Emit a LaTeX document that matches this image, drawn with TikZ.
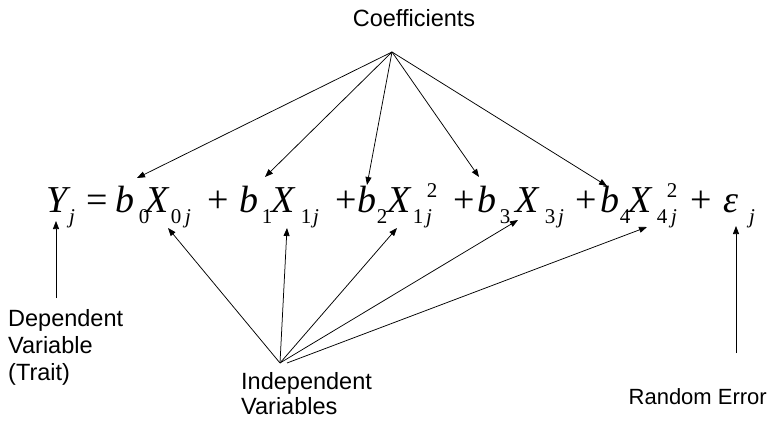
\documentclass[tikz,border=0pt]{standalone}
\usepackage{fontspec}
\usetikzlibrary{arrows.meta}
\newfontfamily\eqfont{Liberation Serif}
\newfontfamily\lblfont{Liberation Sans}
\tikzset{
  eqm/.style={anchor=base, inner sep=0pt, font=\eqfont\fontsize{38}{38}\selectfont},
  eqs/.style={anchor=base, inner sep=0pt, font=\eqfont\fontsize{21}{21}\selectfont},
  lbl/.style={inner sep=0pt, font=\lblfont\fontsize{23.5}{27}\selectfont, align=left},
  arr/.style={-{Triangle[length=8pt,width=6pt]}, line width=0.75pt},
}
\begin{document}
\begin{tikzpicture}[x=1pt,y=-1pt]
\useasboundingbox (0,0) rectangle (770,425);
% main symbols (baseline 212)
\node[eqm] (Y)  at (57,212)  {\itshape Y};
\node[eqm] (eq) at (97,212)  {=};
\node[eqm] (b0) at (125,212) {\itshape b};
\node[eqm] (X0) at (157,212) {\itshape X};
\node[eqm] (p1) at (218,212) {+};
\node[eqm] (b1) at (249,212) {\itshape b};
\node[eqm] (X1) at (283,212) {\itshape X};
\node[eqm] (p2) at (346,212) {+};
\node[eqm] (b2) at (367,212) {\itshape b};
\node[eqm] (X2) at (399,212) {\itshape X};
\node[eqm] (p3) at (464,212) {+};
\node[eqm] (b3) at (487,212) {\itshape b};
\node[eqm] (X3) at (527,212) {\itshape X};
\node[eqm] (p4) at (586,212) {+};
\node[eqm] (b4) at (610,212) {\itshape b};
\node[eqm] (X4) at (640,212) {\itshape X};
\node[eqm] (p5) at (701,212) {+};
\node[eqm] (ep) at (731,212) {\itshape ε};
% subscripts (baseline 223)
\node[eqs] (sYj)  at (72,223)  {\itshape j};
\node[eqs] (sb0)  at (144,223) {0};
\node[eqs] (sX0)  at (176,223) {0};
\node[eqs] (sX0j) at (188,223) {\itshape j};
\node[eqs] (sb1)  at (267,223) {1};
\node[eqs] (sX1)  at (306,223) {1};
\node[eqs] (sX1j) at (316,223) {\itshape j};
\node[eqs] (sb2)  at (382,223) {2};
\node[eqs] (sX2)  at (418,223) {1};
\node[eqs] (sX2j) at (429,223) {\itshape j};
\node[eqs] (sb3)  at (505,223) {3};
\node[eqs] (sX3)  at (550,223) {3};
\node[eqs] (sX3j) at (561,223) {\itshape j};
\node[eqs] (sb4)  at (625,223) {4};
\node[eqs] (sX4)  at (662,223) {4};
\node[eqs] (sX4j) at (674,223) {\itshape j};
\node[eqs] (sepj) at (752,223) {\itshape j};
% superscripts
\node[eqs] (pX2) at (432,197) {2};
\node[eqs] (pX4) at (672,197) {2};
% labels
\node[lbl, anchor=base] (coef) at (414,27) {Coefficients};
\node[lbl, anchor=north west] (dep) at (8,309) {Dependent\\Variable\\(Trait)};
\node[lbl, anchor=north west, font=\lblfont\fontsize{23.5}{25}\selectfont] (ind) at (241,372) {Independent\\Variables};
\node[lbl, anchor=base east, font=\lblfont\fontsize{22}{26}\selectfont] (err) at (767,404) {Random Error};
% connector points
\coordinate (capex) at (392,52);
\coordinate (iapex) at (280,363);
\coordinate (iapexb) at (287,363);
\coordinate (tb0) at (137,178);
\coordinate (tb1) at (265,177);
\coordinate (tb2) at (367,185);
\coordinate (tb3) at (479,177);
\coordinate (tb4) at (607,186);
\coordinate (tX0) at (168,228);
\coordinate (tX1) at (287,228);
\coordinate (tX2) at (397,228);
\coordinate (tX3) at (518,220);
\coordinate (tX4) at (647,227);
\coordinate (dbot) at (56,298);
\coordinate (dtop) at (56,221);
\coordinate (ebot) at (736,353);
\coordinate (etop) at (736,226);
% coefficient arrows
\foreach \t in {tb0,tb1,tb2,tb3,tb4} \draw[arr] (capex) -- (\t);
% independent variable arrows
\foreach \t in {tX0,tX1,tX2,tX3} \draw[arr] (iapex) -- (\t);
\draw[arr] (iapexb) -- (tX4);
% dependent and error arrows
\draw[arr] (dbot) -- (dtop);
\draw[arr] (ebot) -- (etop);
\end{tikzpicture}
\end{document}
